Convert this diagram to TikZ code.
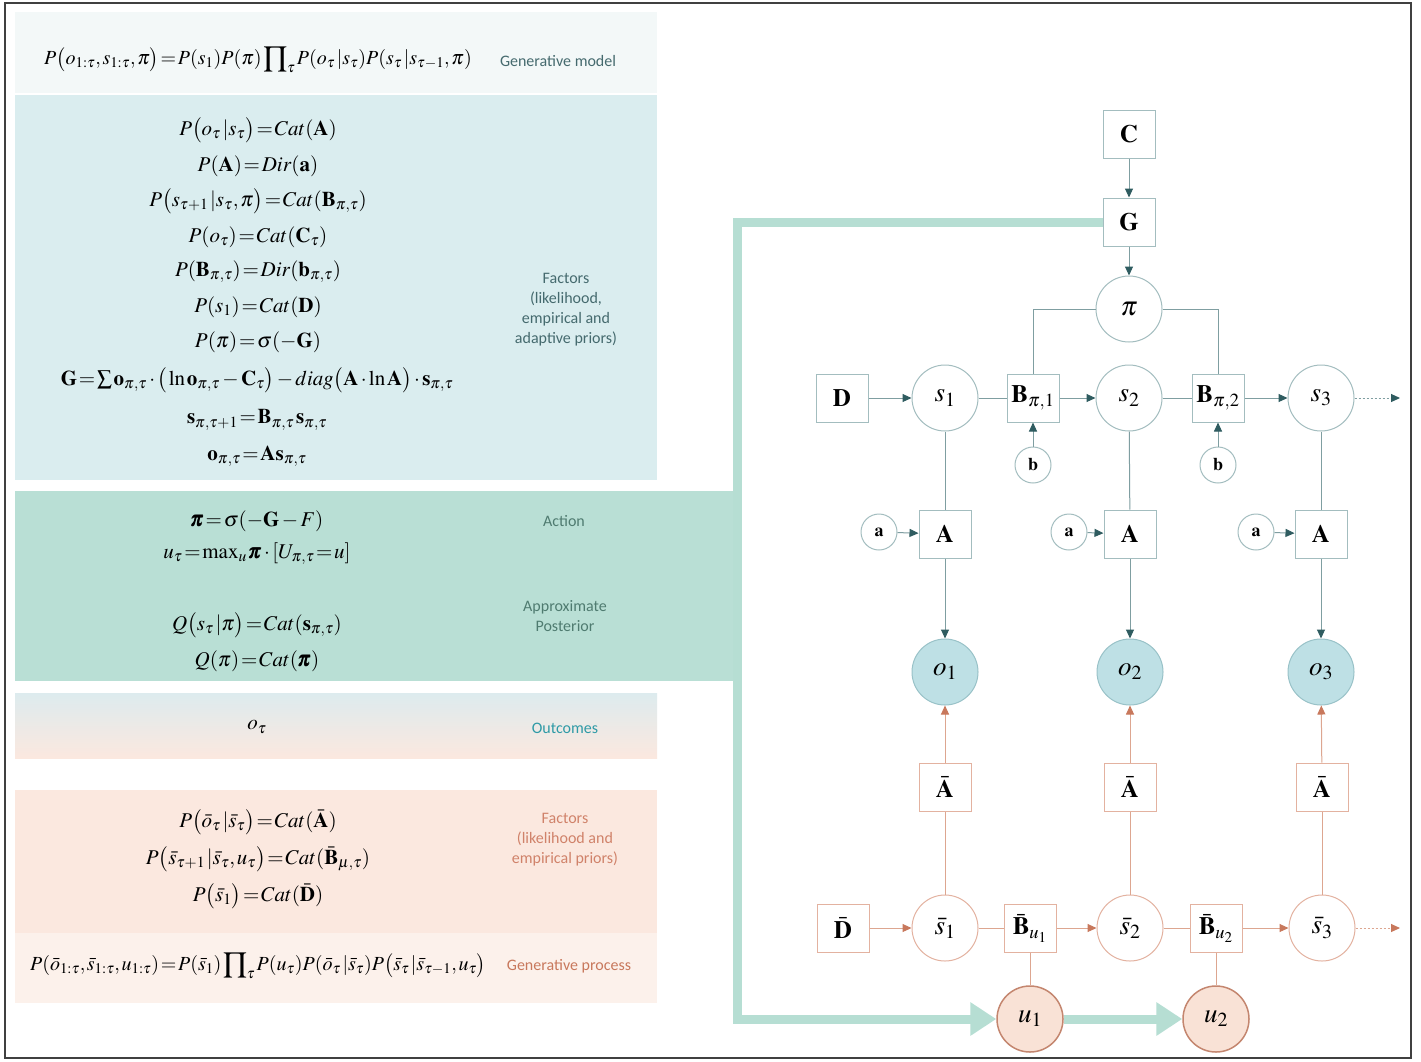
\documentclass[tikz,border=0pt]{standalone}
\usepackage{amsmath}
\usepackage{mathptmx}
\usepackage[no-math]{fontspec}
\newfontfamily\lab{Carlito}
\usetikzlibrary{arrows.meta}
\definecolor{tealdark}{HTML}{2F5C60}
\definecolor{linec}{HTML}{7F9EA1}
\definecolor{nodeb}{HTML}{A3BDBF}
\definecolor{peachl}{HTML}{DDA690}
\definecolor{peachd}{HTML}{C8785C}
\definecolor{peachb}{HTML}{E3B2A0}
\definecolor{ofill}{HTML}{BEE0E5}
\definecolor{oborder}{HTML}{99C2C8}
\definecolor{ufill}{HTML}{F9E2D6}
\definecolor{uborder}{HTML}{C4866F}
\definecolor{mint}{HTML}{B6DED3}
\definecolor{pgen}{HTML}{F3F8F8}
\definecolor{pfac}{HTML}{DAEDEF}
\definecolor{pact}{HTML}{B9DFD5}
\definecolor{pout}{HTML}{DDEBEE}
\definecolor{ppeach}{HTML}{FBE8DF}
\definecolor{pproc}{HTML}{FCF1EB}
\definecolor{labteal}{HTML}{456A6E}
\definecolor{labgreen}{HTML}{4F7B70}
\definecolor{labcyan}{HTML}{2E9AA6}
\definecolor{labpeach}{HTML}{D0826A}
\newcommand{\bpi}{\pmb{\pi}}
\newcommand{\gv}{\,|}
\tikzset{
  sq/.style={draw=nodeb, fill=white, line width=1pt, minimum width=52pt, minimum height=48pt, inner sep=0pt, font=\fontsize{25}{25}\selectfont},
  cir/.style={circle, draw=nodeb, fill=white, line width=1pt, minimum size=66pt, inner sep=0pt, font=\fontsize{27}{27}\selectfont},
  smc/.style={circle, draw=nodeb, fill=white, line width=1pt, minimum size=36pt, inner sep=0pt, font=\fontsize{18}{18}\selectfont},
  psq/.style={sq, draw=peachb},
  pcir/.style={cir, draw=peachb},
  ocir/.style={cir, draw=oborder, fill=ofill},
  ucir/.style={cir, draw=uborder, fill=ufill, line width=1.5pt},
  ln/.style={draw=linec, line width=1pt},
  ar/.style={ln, -{Triangle[length=9pt,width=8pt,color=tealdark]}},
  pln/.style={draw=peachl, line width=1pt},
  par/.style={pln, -{Triangle[length=9pt,width=8pt,color=peachd]}},
  thick mint/.style={draw=mint, line width=9pt, -{Triangle[length=26pt,width=32pt]}},
  eq/.style={font=\fontsize{21}{26}\selectfont, inner sep=0pt},
  eqs/.style={font=\fontsize{20}{26}\selectfont, inner sep=0pt},
  lab/.style={font=\lab\fontsize{16}{20}\selectfont, align=center, inner sep=0pt},
}
\thickmuskip=1.5mu plus 1mu
\medmuskip=2mu plus 1mu
\thinmuskip=1.5mu
\begin{document}
\begin{tikzpicture}[x=1pt,y=-1pt]
\useasboundingbox (0,0) rectangle (1421,1061);
\fill[white] (0,0) rectangle (1421,1061);
% panels
\fill[pgen] (15,12) rectangle (657,93);
\fill[pfac] (15,95) rectangle (657,480);
\fill[pact] (15,491) rectangle (733,681);
\shade[top color=pout, bottom color=ppeach] (15,693) rectangle (657,758);
\fill[ppeach] (15,790) rectangle (657,933);
\fill[pproc] (15,933) rectangle (657,1003);
\draw[black!75, line width=1.2pt] (5,3) rectangle (1411,1058);

% equations
\node[eqs] (e1) at (258,60) {$P\big(o_{1:\tau},s_{1:\tau},\pi\big)=P(s_1)P(\pi)\displaystyle\prod\nolimits_\tau P(o_\tau\gv s_\tau)P(s_\tau\gv s_{\tau-1},\pi)$};
\node[lab, text=labteal] (l1) at (558,61) {Generative model};

\node[eq] (e2) at (258,130) {$P\big(o_\tau\gv s_\tau\big)=Cat(\mathbf{A})$};
\node[eq] (e3) at (258,166) {$P(\mathbf{A})=Dir(\mathbf{a})$};
\node[eq] (e4) at (258,201) {$P\big(s_{\tau+1}\gv s_\tau,\pi\big)=Cat(\mathbf{B}_{\pi,\tau})$};
\node[eq] (e5) at (258,237) {$P(o_\tau)=Cat(\mathbf{C}_\tau)$};
\node[eq] (e6) at (258,272) {$P(\mathbf{B}_{\pi,\tau})=Dir(\mathbf{b}_{\pi,\tau})$};
\node[eq] (e7) at (258,307) {$P(s_1)=Cat(\mathbf{D})$};
\node[eq] (e8) at (258,342) {$P(\pi)=\sigma(-\mathbf{G})$};
\node[eq] (e9) at (257,380) {$\mathbf{G}=\sum\mathbf{o}_{\pi,\tau}\cdot\big(\ln\mathbf{o}_{\pi,\tau}-\mathbf{C}_\tau\big)-diag\big(\mathbf{A}\cdot\ln\mathbf{A}\big)\cdot\mathbf{s}_{\pi,\tau}$};
\node[eq] (e10) at (257,420) {$\mathbf{s}_{\pi,\tau+1}=\mathbf{B}_{\pi,\tau}\,\mathbf{s}_{\pi,\tau}$};
\node[eq] (e11) at (257,456) {$\mathbf{o}_{\pi,\tau}=\mathbf{A}\mathbf{s}_{\pi,\tau}$};
\node[lab, text=labteal] (l2) at (566,310) {Factors\\(likelihood,\\empirical and\\adaptive priors)};

\node[eq] (e12) at (257,521) {$\bpi=\sigma(-\mathbf{G}-F)$};
\node[eq] (e13) at (257,554) {$u_\tau=\max\nolimits_u\bpi\cdot[U_{\pi,\tau}=u]$};
\node[lab, text=labgreen] (l3) at (564,521) {Action};
\node[eq] (e14) at (257,625) {$Q\big(s_\tau\gv\pi\big)=Cat(\mathbf{s}_{\pi,\tau})$};
\node[eq] (e15) at (257,661) {$Q(\pi)=Cat(\bpi)$};
\node[lab, text=labgreen] (l4) at (565,616) {Approximate\\Posterior};

\node[eq] (e16) at (257,727) {$o_\tau$};
\node[lab, text=labcyan] (l5) at (565,728) {Outcomes};

\node[eq] (e17) at (258,822) {$P\big(\bar{o}_\tau\gv\bar{s}_\tau\big)=Cat(\bar{\mathbf{A}})$};
\node[eq] (e18) at (258,859) {$P\big(\bar{s}_{\tau+1}\gv\bar{s}_\tau,u_\tau\big)=Cat(\bar{\mathbf{B}}_{\mu,\tau})$};
\node[eq] (e19) at (258,896) {$P\big(\bar{s}_1\big)=Cat(\bar{\mathbf{D}})$};
\node[lab, text=labpeach] (l6) at (565,840) {Factors\\(likelihood and\\empirical priors)};

\node[eqs] (e20) at (258,966) {$P(\bar{o}_{1:\tau},\bar{s}_{1:\tau},u_{1:\tau})=P(\bar{s}_1)\displaystyle\prod\nolimits_\tau P(u_\tau)P(\bar{o}_\tau\gv\bar{s}_\tau)P\big(\bar{s}_\tau\gv\bar{s}_{\tau-1},u_\tau\big)$};
\node[lab, text=peachd] (l7) at (569,966) {Generative process};

% top graph nodes
\node[sq] (C) at (1129,134) {$\mathbf{C}$};
\node[sq] (G) at (1129,222) {$\mathbf{G}$};
\node[cir] (pi) at (1129,309) {$\pi$};
\node[sq] (D) at (842,398) {$\mathbf{D}$};
\node[cir] (s1) at (945,398) {$s_1$};
\node[sq] (B1) at (1033,398) {$\mathbf{B}_{\pi,1}$};
\node[cir] (s2) at (1129,398) {$s_2$};
\node[sq] (B2) at (1218,398) {$\mathbf{B}_{\pi,2}$};
\node[cir] (s3) at (1321,398) {$s_3$};
\node[smc] (b1) at (1033,465) {$\mathbf{b}$};
\node[smc] (b2) at (1218,465) {$\mathbf{b}$};
\node[smc] (a1) at (879,532) {$\mathbf{a}$};
\node[smc] (a2) at (1069,532) {$\mathbf{a}$};
\node[smc] (a3) at (1256,532) {$\mathbf{a}$};
\node[sq] (A1) at (945,534) {$\mathbf{A}$};
\node[sq] (A2) at (1130,534) {$\mathbf{A}$};
\node[sq] (A3) at (1321,534) {$\mathbf{A}$};
\node[ocir] (o1) at (945,672) {$o_1$};
\node[ocir] (o2) at (1130,672) {$o_2$};
\node[ocir] (o3) at (1321,672) {$o_3$};
% bottom graph nodes
\node[psq] (Ab1) at (945,787) {$\bar{\mathbf{A}}$};
\node[psq] (Ab2) at (1130,787) {$\bar{\mathbf{A}}$};
\node[psq] (Ab3) at (1322,787) {$\bar{\mathbf{A}}$};
\node[psq] (Db) at (843,928) {$\bar{\mathbf{D}}$};
\node[pcir] (sb1) at (945,928) {$\bar{s}_1$};
\node[psq] (Bb1) at (1030,928) {$\bar{\mathbf{B}}_{u_1}$};
\node[pcir] (sb2) at (1130,928) {$\bar{s}_2$};
\node[psq] (Bb2) at (1216,928) {$\bar{\mathbf{B}}_{u_2}$};
\node[pcir] (sb3) at (1322,928) {$\bar{s}_3$};
\node[ucir] (u1) at (1030,1019) {$u_1$};
\node[ucir] (u2) at (1216,1019) {$u_2$};
\coordinate (end1) at (1400,398);
\coordinate (end2) at (1400,928);
\coordinate (c1) at (737,222);
\coordinate (c2) at (737,1019);

% top connectors
\draw[ar] (C) -- (G);
\draw[ar] (G) -- (pi);
\draw[ln] (pi.west) -| (B1.north);
\draw[ln] (pi.east) -| (B2.north);
\draw[ar] (D) -- (s1);
\draw[ln] (s1) -- (B1);
\draw[ar] (B1) -- (s2);
\draw[ln] (s2) -- (B2);
\draw[ar] (B2) -- (s3);
\draw[ar, dash pattern=on 2pt off 2pt] (s3) -- (end1);
\draw[ar] (b1) -- (B1);
\draw[ar] (b2) -- (B2);
\draw[ar] (a1) -- (A1);
\draw[ar] (a2) -- (A2);
\draw[ar] (a3) -- (A3);
\draw[ln] (s1) -- (A1);
\draw[ln] (s2) -- (A2);
\draw[ln] (s3) -- (A3);
\draw[ar] (A1) -- (o1);
\draw[ar] (A2) -- (o2);
\draw[ar] (A3) -- (o3);
% bottom connectors
\draw[par] (Ab1) -- (o1);
\draw[par] (Ab2) -- (o2);
\draw[par] (Ab3) -- (o3);
\draw[pln] (sb1) -- (Ab1);
\draw[pln] (sb2) -- (Ab2);
\draw[pln] (sb3) -- (Ab3);
\draw[par] (Db) -- (sb1);
\draw[pln] (sb1) -- (Bb1);
\draw[par] (Bb1) -- (sb2);
\draw[pln] (sb2) -- (Bb2);
\draw[par] (Bb2) -- (sb3);
\draw[par, dash pattern=on 2pt off 2pt] (sb3) -- (end2);
\draw[pln] (Bb1) -- (u1);
\draw[pln] (Bb2) -- (u2);
% thick mint path
\draw[thick mint, line join=miter] (G.west) -- (c1) -- (c2) -- (u1.west);
\draw[thick mint] (u1.east) -- (u2.west);
\end{tikzpicture}
\end{document}
